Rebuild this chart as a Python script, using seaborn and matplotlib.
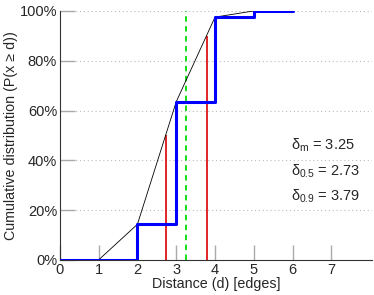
import numpy as np
import pandas as pd
import seaborn as sns
import matplotlib
matplotlib.use("Agg")
import matplotlib.pyplot as plt

# Data
dist = [0, 1, 2, 3, 4, 5, 6]
cdf_step = [0, 0, 14.3, 63.5, 97.5, 100, 100]      # blue empirical CDF (steps)
interp_x = [1, 2, 3, 4, 5, 6]
interp_y = [0, 14.3, 63.5, 97.5, 100, 100]          # black interpolated CDF
delta_m = 3.25
delta_05 = 2.73
delta_09 = 3.79
q_levels = [50, 90]
xticks = [0, 1, 2, 3, 4, 5, 6, 7]
yticks = [0, 20, 40, 60, 80, 100]

sns.set_theme(style="white")
plt.rcParams['font.family'] = ['Liberation Sans', 'DejaVu Sans']
plt.rcParams['mathtext.fontset'] = 'custom'
plt.rcParams['mathtext.rm'] = 'Liberation Sans'
plt.rcParams['mathtext.it'] = 'Liberation Sans'
plt.rcParams['mathtext.default'] = 'regular'

fig = plt.figure(figsize=(3.74, 2.95), dpi=100)
ax = fig.add_axes([0.160, 0.119, 0.835, 0.844])

step_df = pd.DataFrame({"d": dist, "p": cdf_step})
interp_df = pd.DataFrame({"d": interp_x, "p": interp_y})

# grid
for yv in yticks[1:]:
    ax.axhline(yv, color='#bbbbbb', lw=0.8, ls=(0, (1, 2.5)), zorder=0)

sns.lineplot(data=interp_df, x="d", y="p", ax=ax, color='black', lw=0.6, zorder=3)
sns.lineplot(data=step_df, x="d", y="p", ax=ax, color='#0000ff', lw=2.2,
             drawstyle='steps-post', zorder=4)

ax.axvline(delta_m, color='#00dd00', lw=1.3, ls=(0, (3, 2.5)), zorder=2)
for q, lv in zip([delta_05, delta_09], q_levels):
    ax.vlines(q, 0, lv, color='#dd0000', lw=1.2, zorder=2)

ax.text(5.95, 46, r'$\delta_{m}$ = 3.25', fontsize=10.5, va='center')
ax.text(5.95, 35.5, r'$\delta_{0.5}$ = 2.73', fontsize=10.5, va='center')
ax.text(5.95, 25.5, r'$\delta_{0.9}$ = 3.79', fontsize=10.5, va='center')

ax.set_xlim(0, 8.05)
ax.set_ylim(0, 100)
ax.set_xticks(xticks)
ax.set_yticks(yticks)
ax.set_yticklabels([f"{v}%" for v in yticks])
ax.tick_params(axis='both', direction='in', length=11, width=1.0, color='#aaaaaa',
               labelsize=10.5, pad=2, bottom=True, left=True)
ax.set_xlabel("Distance (d) [edges]", fontsize=10.3, labelpad=0)
ax.set_ylabel("Cumulative distribution (P(x \u2265 d))", fontsize=10.3, labelpad=1)

for s in ['top', 'right']:
    ax.spines[s].set_visible(False)
for s in ['left', 'bottom']:
    ax.spines[s].set_color('#333333')
    ax.spines[s].set_linewidth(0.8)

fig.savefig("out.png", dpi=100)
